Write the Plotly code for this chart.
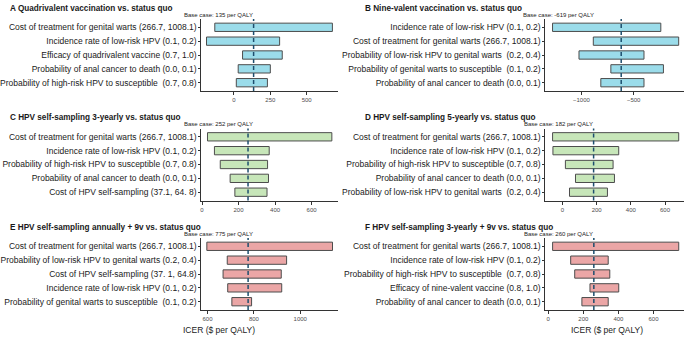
import plotly.graph_objects as go

# ---------------- data ----------------
titles = [
    "A Quadrivalent vaccination vs. status quo",
    "B Nine-valent vaccination vs. status quo",
    "C HPV self-sampling 3-yearly vs. status quo",
    "D HPV self-sampling 5-yearly vs. status quo",
    "E HPV self-sampling annually + 9v vs. status quo",
    "F HPV self-sampling 3-yearly + 9v vs. status quo",
]

A_labels = ["Cost of treatment for genital warts (266.7, 1008.1)",
            "Incidence rate of low-risk HPV (0.1, 0.2)",
            "Efficacy of quadrivalent vaccine (0.7, 1.0)",
            "Probability of anal cancer to death (0.0, 0.1)",
            "Probability of high-risk HPV to susceptible\u00a0 (0.7, 0.8)"]
A_low = [-132, -189, 59, 29, 16]
A_high = [677, 314, 332, 250, 230]
A_base = 135

B_labels = ["Incidence rate of low-risk HPV (0.1, 0.2)",
            "Cost of treatment for genital warts (266.7, 1008.1)",
            "Probability of low-risk HPV to genital warts\u00a0 (0.2, 0.4)",
            "Probability of genital warts to susceptible\u00a0 (0.1, 0.2)",
            "Probability of anal cancer to death (0.0, 0.1)"]
B_low = [-1276, -886, -1023, -718, -814]
B_high = [-240, -69, -401, -215, -401]
B_base = -619

C_labels = ["Cost of treatment for genital warts (266.7, 1008.1)",
            "Incidence rate of low-risk HPV (0.1, 0.2)",
            "Probability of high-risk HPV to susceptible (0.7, 0.8)",
            "Probability of anal cancer to death (0.0, 0.1)",
            "Cost of HPV self-sampling (37.1, 64. 8)"]
C_low = [30, 68, 100, 154, 180]
C_high = [711, 368, 359, 364, 356]
C_base = 252

D_labels = ["Cost of treatment for genital warts (266.7, 1008.1)",
            "Incidence rate of low-risk HPV (0.1, 0.2)",
            "Probability of high-risk HPV to susceptible (0.7, 0.8)",
            "Probability of anal cancer to death (0.0, 0.1)",
            "Probability of low-risk HPV to genital warts\u00a0 (0.2, 0.4)"]
D_low = [-58, -56, 17, 76, 41]
D_high = [680, 329, 296, 304, 263]
D_base = 182

E_labels = ["Cost of treatment for genital warts (266.7, 1008.1)",
            "Probability of low-risk HPV to genital warts (0.2, 0.4)",
            "Cost of HPV self-sampling (37. 1, 64.8)",
            "Incidence rate of low-risk HPV (0.1, 0.2)",
            "Probability of genital warts to susceptible\u00a0 (0.1, 0.2)"]
E_low = [597, 685, 667, 687, 705]
E_high = [1139, 941, 918, 920, 790]
E_base = 775

F_labels = ["Cost of treatment for genital warts (266.7, 1008.1)",
            "Incidence rate of low-risk HPV (0.1, 0.2)",
            "Probability of high-risk HPV to susceptible\u00a0 (0.7, 0.8)",
            "Efficacy of nine-valent vaccine (0.8, 1.0)",
            "Probability of anal cancer to death (0.0, 0.1)"]
F_low = [25, 128, 151, 238, 192]
F_high = [744, 342, 351, 402, 342]
F_base = 260

x_ranges = [[-225, 716], [-1346, -18], [-4, 745], [-101, 711], [573, 1163], [-17, 774]]
x_ticks = [[0, 250, 500], [-1000, -500], [0, 200, 400, 600], [0, 200, 400, 600],
           [600, 800, 1000], [0, 200, 400, 600]]
x_title = "ICER ($ per QALY)"

# ---------------- layout helpers ----------------
W, H = 685, 338
panels = [
    (A_labels, A_low, A_high, A_base),
    (B_labels, B_low, B_high, B_base),
    (C_labels, C_low, C_high, C_base),
    (D_labels, D_low, D_high, D_base),
    (E_labels, E_low, E_high, E_base),
    (F_labels, F_low, F_high, F_base),
]
fills = ["#9BDCEA", "#9BDCEA", "#C7E6B9", "#C7E6B9", "#EBA6A6", "#EBA6A6"]
x_dom_px = [(197, 335), (544, 684)]
y_dom_px = [(19, 91), (128.5, 200.5), (238, 310)]
title_x_px = [2, 360]
title_y_px = [8, 117.5, 227]
base_x_px = [214, 557]
base_y_px = [15, 124.5, 234]
icer_x_px = [215, 606]
icer_y_px = 330

FONT = "Liberation Sans, Arial, sans-serif"

fig = go.Figure()
layout = dict(
    width=W, height=H, margin=dict(l=0, r=0, t=0, b=0),
    paper_bgcolor="white", plot_bgcolor="white", showlegend=False,
    font=dict(family=FONT, color="#1a1a1a"),
    bargap=0.4,
)
annotations = []
shapes = []

for i, (labels, low, high, base) in enumerate(panels):
    col = i % 2
    row = i // 2
    k = "" if i == 0 else str(i + 1)
    xa, ya = "x" + k, "y" + k
    fig.add_trace(go.Bar(
        y=labels, x=[h - l for l, h in zip(low, high)], base=low,
        orientation="h", marker=dict(color=fills[i], line=dict(color="#4d4d4d", width=1)),
        width=0.6, xaxis=xa, yaxis=ya, hoverinfo="skip",
    ))
    xd = [x_dom_px[col][0] / W, x_dom_px[col][1] / W]
    yd = [1 - y_dom_px[row][1] / H, 1 - y_dom_px[row][0] / H]
    layout["xaxis" + k] = dict(
        domain=xd, anchor=ya, range=x_ranges[i], tickvals=x_ticks[i],
        showgrid=False, zeroline=False, showline=True, linecolor="#333333", linewidth=1,
        ticks="outside", ticklen=3, tickcolor="#333333", tickwidth=1,
        tickfont=dict(size=6, color="#4d4d4d", family=FONT),
    )
    layout["yaxis" + k] = dict(
        domain=yd, anchor=xa, type="category", categoryarray=labels,
        categoryorder="array", range=[4.6, -0.6],
        showgrid=False, zeroline=False, showline=True, linecolor="#333333", linewidth=1,
        ticks="outside", ticklen=2, tickcolor="#333333", tickwidth=1,
        tickfont=dict(size=8.5, color="#1a1a1a", family=FONT),
    )
    shapes.append(dict(
        type="line", xref=xa, yref=ya + " domain", x0=base, x1=base, y0=0, y1=1,
        line=dict(color="#1d4e6e", width=1.5, dash="4px,3px"), layer="above",
    ))
    annotations.append(dict(
        text="<b>" + titles[i] + "</b>", xref="paper", yref="paper",
        x=title_x_px[col] / W, y=1 - title_y_px[row] / H, xanchor="left", yanchor="middle",
        showarrow=False, font=dict(size=8.2, color="#1a1a1a", family=FONT),
    ))
    annotations.append(dict(
        text="Base case: %d per QALY" % base, xref="paper", yref="paper",
        x=base_x_px[col] / W, y=1 - base_y_px[row] / H, xanchor="center", yanchor="middle",
        showarrow=False, font=dict(size=6, color="#1a1a1a", family=FONT),
    ))
    if row == 2:
        annotations.append(dict(
            text=x_title, xref="paper", yref="paper",
            x=icer_x_px[col] / W, y=1 - icer_y_px / H, xanchor="center", yanchor="middle",
            showarrow=False, font=dict(size=8.5, color="#1a1a1a", family=FONT),
        ))

layout["annotations"] = annotations
layout["shapes"] = shapes
fig.update_layout(**layout)
fig.write_html("out.html", config={"displayModeBar": False},
               post_script="document.body.style.margin='0';document.body.style.overflow='hidden';")
